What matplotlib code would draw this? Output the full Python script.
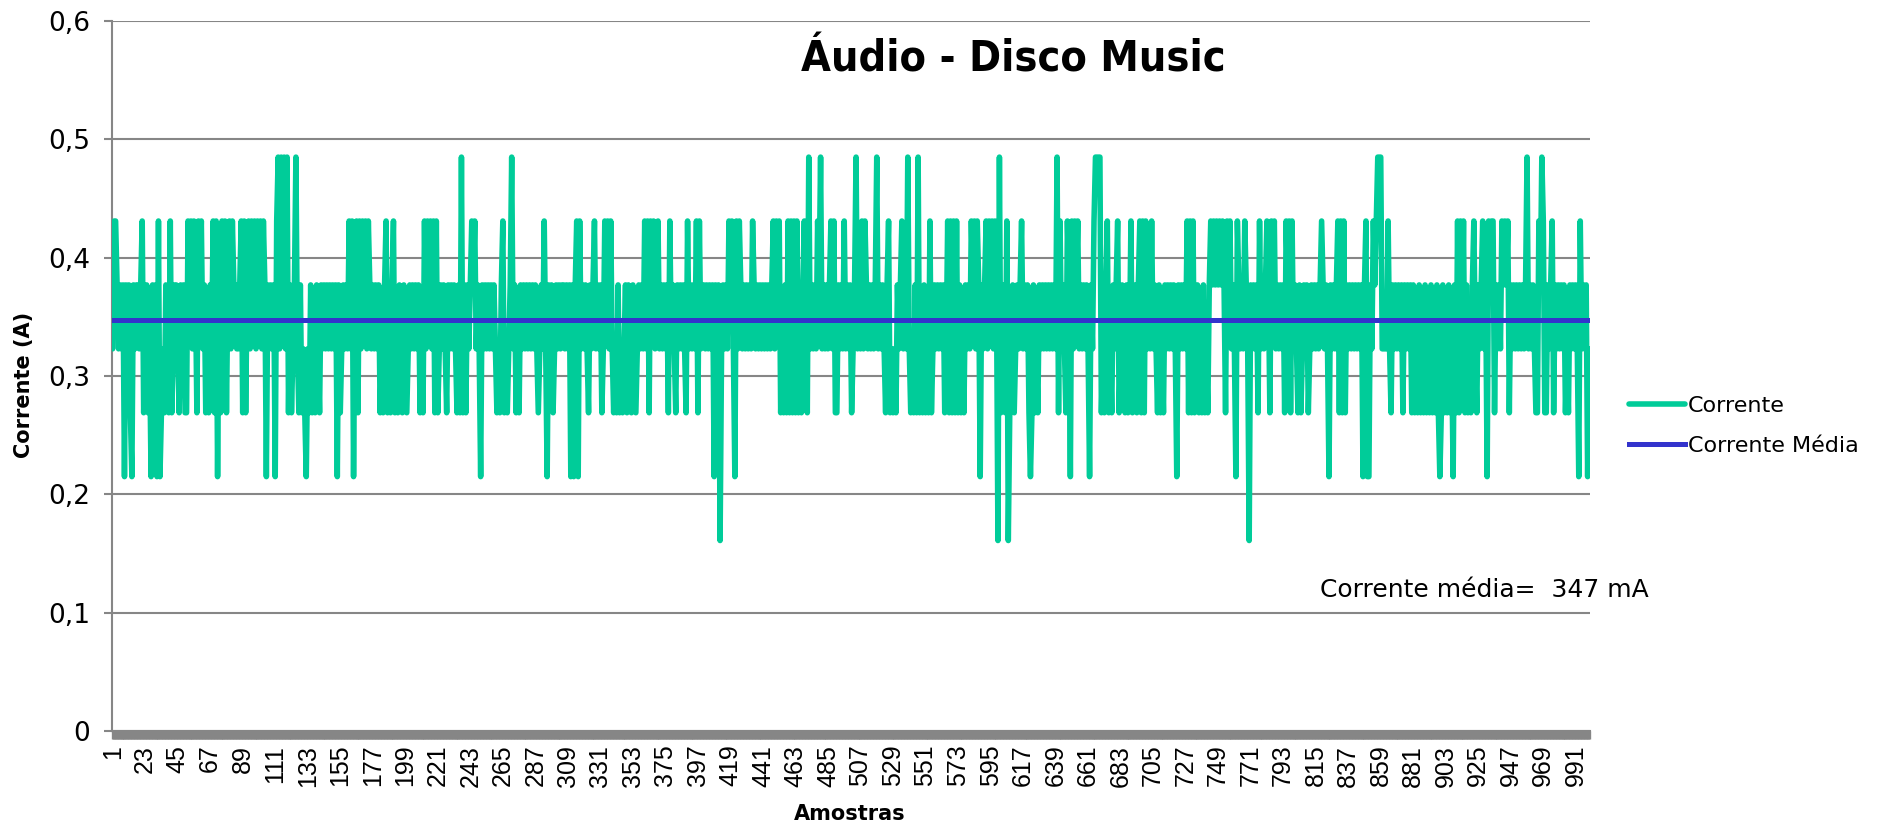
import matplotlib
matplotlib.use('Agg')
import matplotlib.pyplot as plt
from matplotlib.ticker import FuncFormatter

# níveis de corrente (A) que o medidor registra
niveis = [0.161, 0.215, 0.269, 0.323, 0.377, 0.431, 0.485]

# cada dígito é o índice do nível lido em uma amostra (1 a 1000)
leituras = (
    "3554343414" "3421434434" "5234231424" "1512324325" "2344324342"
    "2545354254" "5342324352" "5142535245" "3544334525" "2453545354"
    "5354143434" "1563646362" "4234632423" "2132423243" "2434343434"
    "3414234343" "5351452535" "4535434343" "4232452324" "5232432432"
    "3434343423" "2535453525" "2343432434" "3432426242" "4345453431"
    "4343434343" "2324523234" "6342324343" "4343434323" "4353143423"
    "4343443434" "1414515343" "4324345343" "4235453532" "3242323424"
    "3243234343" "5352545345" "3434342534" "3243434325" "3434352534"
    "4343434143" "4034343545" "3153543434" "3435434343" "4343434535"
    "4523242525" "2525232453" "2634343546" "3434345352" "2434353434"
    "2346343535" "4343434634" "3432452323" "2434534363" "2324262324"
    "2325234343" "4342352525" "2524232434" "3545354143" "4535453540"
    "6234250234" "2343453434" "2124232434" "3434343436" "2534325415"
    "3545343434" "3143566662" "3245232434" "5234324235" "2342452525"
    "3435343242" "3243434343" "1434343525" "2523423242" "3245454545"
    "4542545343" "1543435430" "4343425343" "4542545343" "4342545253"
    "4324234342" "3434343454" "3431434345" "2525243434" "3434341451"
    "1435456663" "3335324343" "4342434342" "4232423242" "3242324212"
    "4232423142" "5253524232" "4532434534" "1545524343" "5454524343"
    "4343434634" "3432254652" "2434524343" "4342324343" "4315343413"
)

corrente = [niveis[int(c)] for c in leituras]
amostras = list(range(1, len(corrente) + 1))
corrente_media = 0.347
rotulos_x = list(range(1, len(corrente), 22))
marcas_y = [0, 0.1, 0.2, 0.3, 0.4, 0.5, 0.6]

cinza = '#868686'

fig = plt.figure(figsize=(18.77, 8.25), dpi=100)
ax = fig.add_axes([0.0597, 0.1139, 0.7874, 0.8606])

ax.plot(amostras, corrente, color='#00CC99', lw=4, solid_joinstyle='round',
        solid_capstyle='round', label='Corrente', zorder=3)
ax.plot(amostras, [corrente_media] * len(amostras), color='#3333CC', lw=3.6,
        label='Corrente Média', zorder=4)

ax.set_xlim(0.6, len(corrente) + 0.6)
ax.set_ylim(0, 0.6)

ax.set_yticks(marcas_y)
ax.yaxis.set_major_formatter(FuncFormatter(
    lambda v, p: '0' if v == 0 else f'{v:.1f}'.replace('.', ',')))
ax.yaxis.grid(True, color=cinza, lw=1.5)
ax.set_axisbelow(True)

for lado in ['top', 'right']:
    ax.spines[lado].set_visible(False)
for lado in ['left', 'bottom']:
    ax.spines[lado].set_color(cinza)
    ax.spines[lado].set_linewidth(1.5)

# uma marca por amostra: juntas formam a faixa cinza sob o eixo
ax.set_xticks(rotulos_x)
ax.set_xticklabels([str(r) for r in rotulos_x], rotation=90,
                   fontfamily='Liberation Sans', fontsize=18)
ax.set_xticks(amostras, minor=True)
ax.tick_params(axis='x', which='both', length=5.8, width=2.4, color=cinza,
               direction='out', pad=4)
ax.tick_params(axis='y', length=5.8, width=1.5, color=cinza, labelsize=19,
               pad=10)

fig.text(24 / 1877, 1 - 385 / 825, 'Corrente (A)', rotation=90,
         fontsize=15, fontweight='bold', ha='center', va='center')
fig.text(850 / 1877, 1 - 814 / 825, 'Amostras', fontsize=15,
         fontweight='bold', ha='center', va='center')
fig.text(1013 / 1877, 1 - 60 / 825, 'Áudio - Disco Music', fontsize=31,
         fontweight='bold', fontstretch='condensed', ha='center', va='center')
fig.text(1320 / 1877, 1 - 597 / 825,
         f'Corrente média=  {corrente_media * 1000:.0f} mA',
         fontsize=18, va='baseline')

fig.legend(loc='center left', bbox_to_anchor=(1629 / 1877, 1 - 426 / 825),
           frameon=False, fontsize=16, handlelength=2.5, handletextpad=0.15,
           labelspacing=0.9, borderpad=0, borderaxespad=0)

fig.savefig('out.png', dpi=100)
